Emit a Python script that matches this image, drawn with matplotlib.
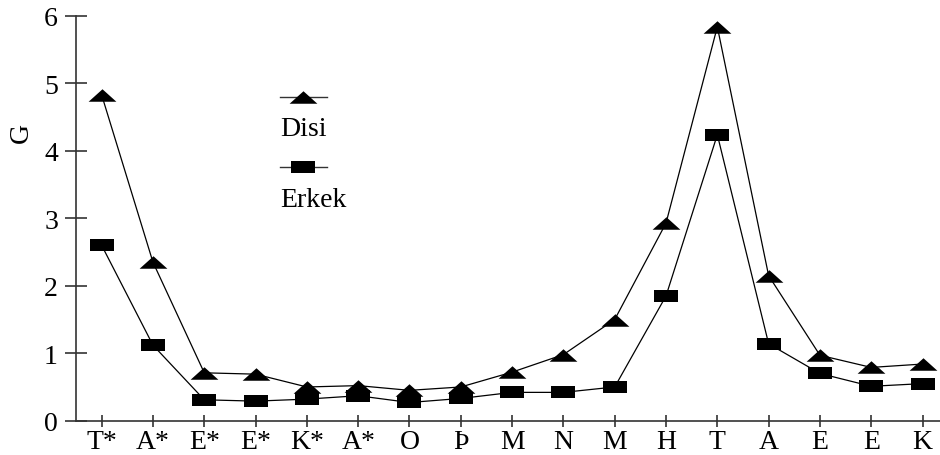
import matplotlib
matplotlib.use("Agg")
import matplotlib.pyplot as plt
import numpy as np
from matplotlib.lines import Line2D
from matplotlib.path import Path

plt.rcParams['font.family'] = ['Liberation Serif', 'DejaVu Serif']

categories = ['T*', 'A*', 'E*', 'E*', 'K*', 'A*', 'O', 'Þ', 'M', 'N', 'M',
              'H', 'T', 'A', 'E', 'E', 'K']
disi = [4.83, 2.35, 0.71, 0.69, 0.50, 0.52, 0.45, 0.50, 0.72, 0.98, 1.50,
        2.93, 5.84, 2.15, 0.97, 0.79, 0.84]
erkek = [2.60, 1.12, 0.31, 0.29, 0.32, 0.37, 0.27, 0.33, 0.42, 0.42, 0.50,
         1.85, 4.24, 1.14, 0.70, 0.51, 0.55]
y_ticks = [0, 1, 2, 3, 4, 5, 6]

# flat triangle and wide rectangle markers like the original
tri = Path([(-1, -0.45), (1, -0.45), (0, 0.45), (-1, -0.45)],
           [Path.MOVETO, Path.LINETO, Path.LINETO, Path.CLOSEPOLY])
rect = Path([(-1, -0.53), (1, -0.53), (1, 0.53), (-1, 0.53), (-1, -0.53)],
            [Path.MOVETO, Path.LINETO, Path.LINETO, Path.LINETO, Path.CLOSEPOLY])

fs = 20
fig = plt.figure(figsize=(9.4, 4.56), dpi=100)
ax = fig.add_axes([76 / 940, 1 - 421.7 / 456, 1 - 76 / 940, (421.7 - 17) / 456])

x = np.arange(len(categories))
ax.plot(x, disi, color='black', lw=0.9, marker=tri, ms=20,
        mfc='black', mec='black', mew=0)
ax.plot(x, erkek, color='black', lw=0.9, marker=rect, ms=17.5,
        mfc='black', mec='black', mew=0)

ax.set_xlim(-0.5, 16.34)
ax.set_ylim(0, 6)
ax.set_xticks(x)
ax.set_xticklabels(categories)
ax.set_yticks(y_ticks)
for s in ['top', 'right']:
    ax.spines[s].set_visible(False)
for s in ['left', 'bottom']:
    ax.spines[s].set_color('#333333')
    ax.spines[s].set_linewidth(1.2)
ax.tick_params(axis='y', direction='inout', length=16, width=1.2,
               color='#333333', labelsize=fs, pad=5)
ax.tick_params(axis='x', direction='inout', length=8, width=1.2,
               color='#333333', labelsize=fs, pad=2)
for ln in ax.lines:
    ln.set_clip_on(False)

fig.text(21 / 940, 1 - 133 / 456, 'G', rotation=90, fontsize=fs,
         ha='center', va='center')

# legend: handle above label
def leg(y_px, marker, ms, label, y_txt):
    fig.add_artist(Line2D([280 / 940, 327 / 940], [1 - y_px / 456] * 2,
                          transform=fig.transFigure, color='#333333', lw=1.0))
    fig.add_artist(Line2D([303 / 940], [1 - y_px / 456], transform=fig.transFigure,
                          marker=marker, ms=ms, color='black', mew=0, ls='none'))
    fig.text(280 / 940, 1 - y_txt / 456, label, fontsize=fs,
             ha='left', va='baseline')

leg(97.5, tri, 20, 'Disi', 136)
leg(168, rect, 17.5, 'Erkek', 207)

fig.savefig('out.png', dpi=100)
